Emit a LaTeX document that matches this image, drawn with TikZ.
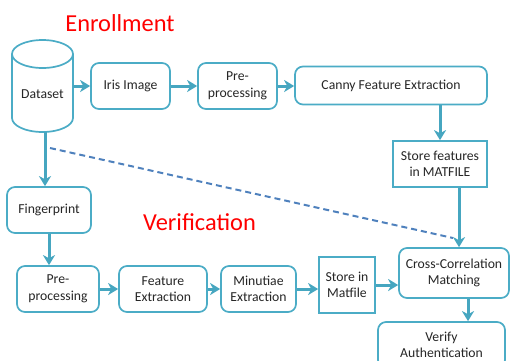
\documentclass[tikz,border=0pt]{standalone}
\usepackage{fontspec}
\setmainfont{Carlito}
\usetikzlibrary{arrows.meta,calc}
\definecolor{bd}{HTML}{4BACC6}
\definecolor{ar}{HTML}{46A6C0}
\definecolor{dsh}{HTML}{4F81BD}
\definecolor{tx}{HTML}{262626}
\begin{document}
\begin{tikzpicture}[x=1pt,y=-1pt,
 box/.style={draw=bd, line width=1.7pt, rounded corners=8pt, fill=white, align=center, text=tx, font=\fontsize{13.7}{16.5}\selectfont, inner sep=0pt},
 sq/.style={box, rounded corners=0pt},
 arr/.style={draw=ar, line width=3pt, -{Stealth[length=10pt,width=12pt,inset=3pt]}},
 dsl/.style={draw=dsh, line width=2pt, dash pattern=on 6pt off 4pt},
 title/.style={text=red, font=\fontsize{24.4}{28}\selectfont, inner sep=0pt},
 lbl/.style={text=tx, font=\fontsize{13.7}{16.5}\selectfont, inner sep=0pt}]
\useasboundingbox (0,0) rectangle (510,360);
\clip (0,0) rectangle (510,360);

% titles
\node[title] (enr) at (120,23) {Enrollment};
\node[title] (verif) at (199.5,222) {Verification};

% dataset cylinder
\node[minimum width=61pt, minimum height=92pt, inner sep=0pt] (ds) at (42.5,86) {};
\fill[white] (12,54) rectangle (73,118);
\fill[white] (42.5,118) ellipse [x radius=30.5pt, y radius=14pt];
\draw[bd, line width=1.7pt] (12,54) -- (12,118);
\draw[bd, line width=1.7pt] (73,54) -- (73,118);
\draw[bd, line width=1.7pt, fill=white] (42.5,54) ellipse [x radius=30.5pt, y radius=14pt];
\begin{scope}
\clip (0,118) rectangle (100,140);
\draw[bd, line width=1.7pt] (42.5,118) ellipse [x radius=30.5pt, y radius=14pt];
\end{scope}
\node[lbl] (dslabel) at (42.5,94) {Dataset};

% enrollment row
\node[box, minimum width=79pt, minimum height=46pt] (iris) at (130.5,86) {Iris Image};
\node[box, minimum width=79pt, minimum height=46pt] (pre1) at (237.5,86) {Pre-\\processing};
\node[box, minimum width=192pt, minimum height=38pt] (canny) at (391,85.5) {Canny Feature Extraction};
\node[sq, minimum width=94pt, minimum height=46pt] (sf) at (440,164) {Store features\\in MATFILE};

% verification
\node[box, minimum width=84pt, minimum height=46pt] (fp) at (49,210) {Fingerprint};
\node[box, minimum width=82pt, minimum height=46pt] (pre2) at (58,289) {Pre-\\processing};
\node[box, minimum width=88pt, minimum height=46pt] (fe) at (163,289) {Feature\\Extraction};
\node[box, minimum width=75pt, minimum height=46pt] (mi) at (258.5,289) {Minutiae\\Extraction};
\node[sq, minimum width=56pt, minimum height=56pt] (sm) at (347,285) {Store in\\Matfile};
\node[box, minimum width=110pt, minimum height=50pt] (cc) at (454,273) {Cross-Correlation\\Matching};
\node[box, minimum width=127pt, minimum height=46pt] (ve) at (441.5,345) {Verify\\Authentication};

% dashed
\coordinate (dstart) at (50,148);
\coordinate (dend) at (453,238);
\draw[dsl] (dstart) -- (dend);

% arrows
\draw[arr] (ds.east) -- (iris.west);
\draw[arr] (iris.east) -- (pre1.west);
\draw[arr] (pre1.east) -- (pre1.east -| canny.west);
\draw[arr] (canny.south -| sf.north) -- (sf.north);
\draw[arr] ([xshift=19pt]sf.south) -- ([xshift=19pt]sf.south |- cc.north);
\draw[arr] ([xshift=2.5pt]ds.south) -- ([xshift=-4pt]fp.north);
\draw[arr] (fp.south) -- (fp.south |- pre2.north);
\draw[arr] (pre2.east) -- (fe.west);
\draw[arr] (fe.east) -- (mi.west);
\draw[arr] (mi.east) -- (mi.east -| sm.west);
\draw[arr] (sm.east) -- (sm.east -| cc.west);
\draw[arr] ([xshift=14pt]cc.south) -- ([xshift=14pt]cc.south |- ve.north);
\end{tikzpicture}
\end{document}
